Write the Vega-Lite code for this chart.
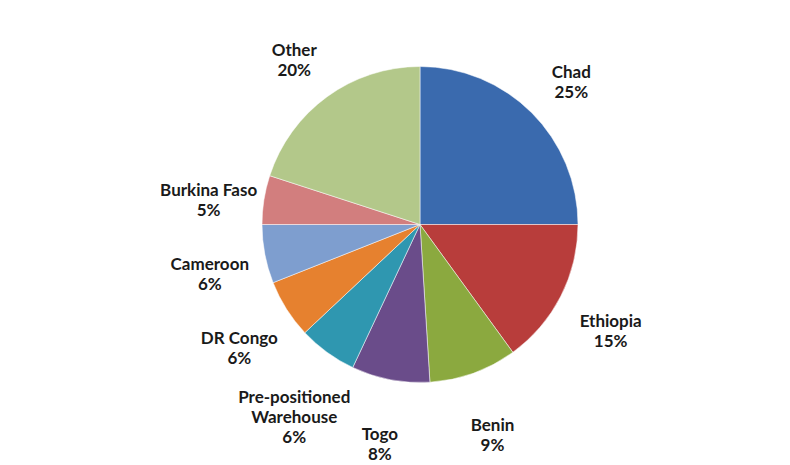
{
  "$schema": "https://vega.github.io/schema/vega-lite/v6.json",
  "width": 790,
  "height": 465,
  "autosize": {"type": "fit", "contains": "padding"},
  "padding": {"left": 50, "right": 0, "top": 0, "bottom": 10},
  "background": "white",
  "data": {
    "values": [
      {"name": "Chad", "pct": 25, "idx": 1, "label": "Chad\n25%"},
      {"name": "Ethiopia", "pct": 15, "idx": 2, "label": "Ethiopia\n15%"},
      {"name": "Benin", "pct": 9, "idx": 3, "label": "Benin\n9%"},
      {"name": "Togo", "pct": 8, "idx": 4, "label": "Togo\n8%"},
      {"name": "Pre-positioned Warehouse", "pct": 6, "idx": 5, "label": "Pre-positioned\nWarehouse\n6%"},
      {"name": "DR Congo", "pct": 6, "idx": 6, "label": "DR Congo\n6%"},
      {"name": "Cameroon", "pct": 6, "idx": 7, "label": "Cameroon\n6%"},
      {"name": "Burkina Faso", "pct": 5, "idx": 8, "label": "Burkina Faso\n5%"},
      {"name": "Other", "pct": 20, "idx": 9, "label": "Other\n20%"}
    ]
  },
  "encoding": {
    "theta": {"field": "pct", "type": "quantitative", "stack": true},
    "order": {"field": "idx", "type": "quantitative", "sort": "ascending"}
  },
  "layer": [
    {
      "mark": {"type": "arc", "outerRadius": 158, "stroke": "white", "strokeWidth": 0.5},
      "encoding": {
        "color": {
          "field": "name",
          "type": "nominal",
          "legend": null,
          "scale": {
            "domain": ["Chad", "Ethiopia", "Benin", "Togo", "Pre-positioned Warehouse", "DR Congo", "Cameroon", "Burkina Faso", "Other"],
            "range": ["#3A6AAE", "#B83D3B", "#8BA93F", "#6A4C8A", "#2F97B0", "#E6812F", "#7E9ECF", "#D27E7E", "#B3C88A"]
          }
        }
      }
    },
    {
      "mark": {"type": "text", "radius": 214, "font": "Lato", "fontWeight": "bold", "fontSize": 17, "color": "#1a1a1a", "lineBreak": "\n", "lineHeight": 20, "align": "center", "baseline": "middle"},
      "encoding": {
        "text": {"field": "label", "type": "nominal"}
      }
    }
  ]
}
